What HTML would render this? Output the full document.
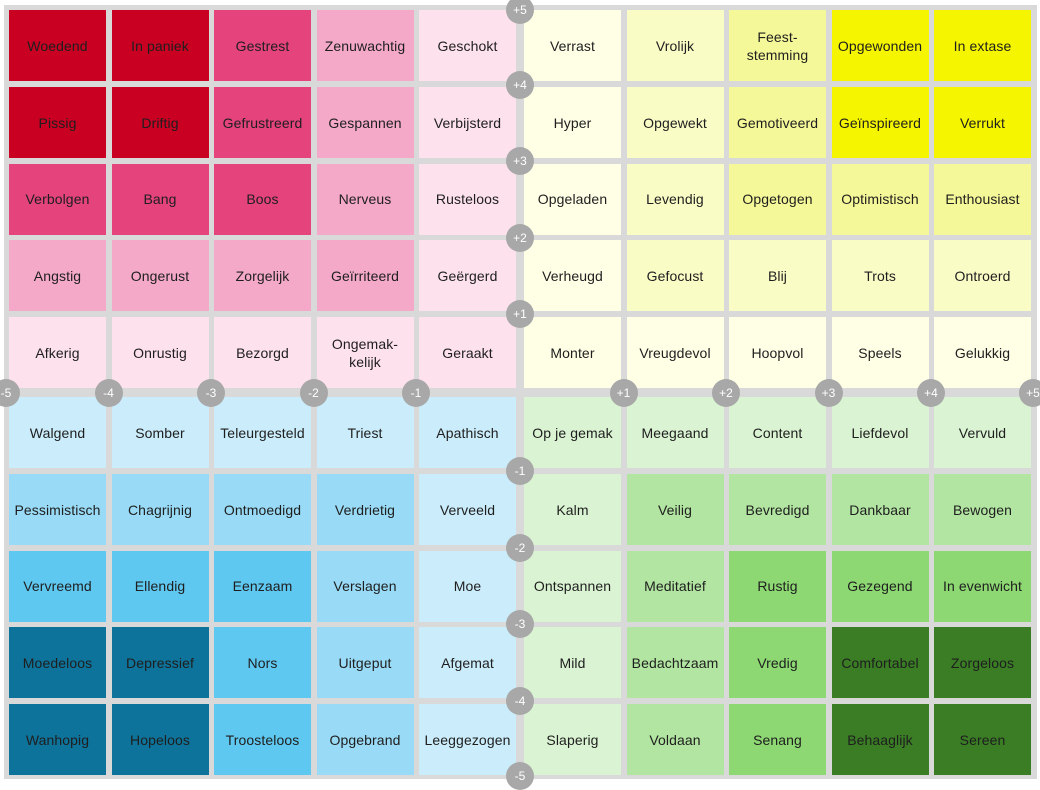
<!DOCTYPE html>
<html><head><meta charset="utf-8"><style>
body{margin:0;width:1040px;height:783px;background:#fff;position:relative;overflow:hidden;font-family:"Liberation Sans","DejaVu Sans",sans-serif}
.bg{position:absolute;left:4px;top:5px;width:1033px;height:774px;background:#d9d9d9}
.c{position:absolute;width:97px;height:71px;display:flex;align-items:center;justify-content:center;text-align:center;font-size:14px;color:#1e1e1e;line-height:18px;letter-spacing:0.1px}
.k{position:absolute;width:28px;height:28px;border-radius:50%;background:#a8a8a8;color:#fff;font-size:12px;display:flex;align-items:center;justify-content:center;margin:-14px 0 0 -14px}
.R{background:#c90022}.P{background:#e4437c}.M{background:#f4a9c8}.L{background:#fde1ec}
.Y0{background:#ffffe6}.Y1{background:#fafcc6}.Y2{background:#f5f898}.Y3{background:#f6f500}
.B0{background:#cbedfb}.B1{background:#99dbf6}.B2{background:#5fc8f0}.B3{background:#0e739a}
.G0{background:#daf3d2}.G1{background:#b2e5a1}.G2{background:#8dd873}.G3{background:#3a7d25}
</style></head><body>
<div class="bg"></div>
<!-- row 0 y10 -->
<div class="c R" style="left:9px;top:10px">Woedend</div>
<div class="c R" style="left:111.5px;top:10px">In paniek</div>
<div class="c P" style="left:214px;top:10px">Gestrest</div>
<div class="c M" style="left:316.5px;top:10px">Zenuwachtig</div>
<div class="c L" style="left:419px;top:10px">Geschokt</div>
<div class="c Y0" style="left:524px;top:10px">Verrast</div>
<div class="c Y1" style="left:626.5px;top:10px">Vrolijk</div>
<div class="c Y2" style="left:729px;top:10px">Feest-<br>stemming</div>
<div class="c Y3" style="left:831.5px;top:10px">Opgewonden</div>
<div class="c Y3" style="left:934px;top:10px">In extase</div>
<!-- row 1 y87 -->
<div class="c R" style="left:9px;top:87px">Pissig</div>
<div class="c R" style="left:111.5px;top:87px">Driftig</div>
<div class="c P" style="left:214px;top:87px">Gefrustreerd</div>
<div class="c M" style="left:316.5px;top:87px">Gespannen</div>
<div class="c L" style="left:419px;top:87px">Verbijsterd</div>
<div class="c Y0" style="left:524px;top:87px">Hyper</div>
<div class="c Y1" style="left:626.5px;top:87px">Opgewekt</div>
<div class="c Y2" style="left:729px;top:87px">Gemotiveerd</div>
<div class="c Y3" style="left:831.5px;top:87px">Geïnspireerd</div>
<div class="c Y3" style="left:934px;top:87px">Verrukt</div>
<!-- row 2 y163.5 -->
<div class="c P" style="left:9px;top:163.5px">Verbolgen</div>
<div class="c P" style="left:111.5px;top:163.5px">Bang</div>
<div class="c P" style="left:214px;top:163.5px">Boos</div>
<div class="c M" style="left:316.5px;top:163.5px">Nerveus</div>
<div class="c L" style="left:419px;top:163.5px">Rusteloos</div>
<div class="c Y0" style="left:524px;top:163.5px">Opgeladen</div>
<div class="c Y1" style="left:626.5px;top:163.5px">Levendig</div>
<div class="c Y2" style="left:729px;top:163.5px">Opgetogen</div>
<div class="c Y2" style="left:831.5px;top:163.5px">Optimistisch</div>
<div class="c Y2" style="left:934px;top:163.5px">Enthousiast</div>
<!-- row 3 y240 -->
<div class="c M" style="left:9px;top:240px">Angstig</div>
<div class="c M" style="left:111.5px;top:240px">Ongerust</div>
<div class="c M" style="left:214px;top:240px">Zorgelijk</div>
<div class="c M" style="left:316.5px;top:240px">Geïrriteerd</div>
<div class="c L" style="left:419px;top:240px">Geërgerd</div>
<div class="c Y0" style="left:524px;top:240px">Verheugd</div>
<div class="c Y1" style="left:626.5px;top:240px">Gefocust</div>
<div class="c Y1" style="left:729px;top:240px">Blij</div>
<div class="c Y1" style="left:831.5px;top:240px">Trots</div>
<div class="c Y1" style="left:934px;top:240px">Ontroerd</div>
<!-- row 4 y317 -->
<div class="c L" style="left:9px;top:317px">Afkerig</div>
<div class="c L" style="left:111.5px;top:317px">Onrustig</div>
<div class="c L" style="left:214px;top:317px">Bezorgd</div>
<div class="c L" style="left:316.5px;top:317px">Ongemak-<br>kelijk</div>
<div class="c L" style="left:419px;top:317px">Geraakt</div>
<div class="c Y0" style="left:524px;top:317px">Monter</div>
<div class="c Y0" style="left:626.5px;top:317px">Vreugdevol</div>
<div class="c Y0" style="left:729px;top:317px">Hoopvol</div>
<div class="c Y0" style="left:831.5px;top:317px">Speels</div>
<div class="c Y0" style="left:934px;top:317px">Gelukkig</div>
<!-- row 5 y397 -->
<div class="c B0" style="left:9px;top:397px">Walgend</div>
<div class="c B0" style="left:111.5px;top:397px">Somber</div>
<div class="c B0" style="left:214px;top:397px">Teleurgesteld</div>
<div class="c B0" style="left:316.5px;top:397px">Triest</div>
<div class="c B0" style="left:419px;top:397px">Apathisch</div>
<div class="c G0" style="left:524px;top:397px">Op je gemak</div>
<div class="c G0" style="left:626.5px;top:397px">Meegaand</div>
<div class="c G0" style="left:729px;top:397px">Content</div>
<div class="c G0" style="left:831.5px;top:397px">Liefdevol</div>
<div class="c G0" style="left:934px;top:397px">Vervuld</div>
<!-- row 6 y474 -->
<div class="c B1" style="left:9px;top:474px">Pessimistisch</div>
<div class="c B1" style="left:111.5px;top:474px">Chagrijnig</div>
<div class="c B1" style="left:214px;top:474px">Ontmoedigd</div>
<div class="c B1" style="left:316.5px;top:474px">Verdrietig</div>
<div class="c B0" style="left:419px;top:474px">Verveeld</div>
<div class="c G0" style="left:524px;top:474px">Kalm</div>
<div class="c G1" style="left:626.5px;top:474px">Veilig</div>
<div class="c G1" style="left:729px;top:474px">Bevredigd</div>
<div class="c G1" style="left:831.5px;top:474px">Dankbaar</div>
<div class="c G1" style="left:934px;top:474px">Bewogen</div>
<!-- row 7 y550.5 -->
<div class="c B2" style="left:9px;top:550.5px">Vervreemd</div>
<div class="c B2" style="left:111.5px;top:550.5px">Ellendig</div>
<div class="c B2" style="left:214px;top:550.5px">Eenzaam</div>
<div class="c B1" style="left:316.5px;top:550.5px">Verslagen</div>
<div class="c B0" style="left:419px;top:550.5px">Moe</div>
<div class="c G0" style="left:524px;top:550.5px">Ontspannen</div>
<div class="c G1" style="left:626.5px;top:550.5px">Meditatief</div>
<div class="c G2" style="left:729px;top:550.5px">Rustig</div>
<div class="c G2" style="left:831.5px;top:550.5px">Gezegend</div>
<div class="c G2" style="left:934px;top:550.5px">In evenwicht</div>
<!-- row 8 y627 -->
<div class="c B3" style="left:9px;top:627px">Moedeloos</div>
<div class="c B3" style="left:111.5px;top:627px">Depressief</div>
<div class="c B2" style="left:214px;top:627px">Nors</div>
<div class="c B1" style="left:316.5px;top:627px">Uitgeput</div>
<div class="c B0" style="left:419px;top:627px">Afgemat</div>
<div class="c G0" style="left:524px;top:627px">Mild</div>
<div class="c G1" style="left:626.5px;top:627px">Bedachtzaam</div>
<div class="c G2" style="left:729px;top:627px">Vredig</div>
<div class="c G3" style="left:831.5px;top:627px">Comfortabel</div>
<div class="c G3" style="left:934px;top:627px">Zorgeloos</div>
<!-- row 9 y704 -->
<div class="c B3" style="left:9px;top:704px">Wanhopig</div>
<div class="c B3" style="left:111.5px;top:704px">Hopeloos</div>
<div class="c B2" style="left:214px;top:704px">Troosteloos</div>
<div class="c B1" style="left:316.5px;top:704px">Opgebrand</div>
<div class="c B0" style="left:419px;top:704px">Leeggezogen</div>
<div class="c G0" style="left:524px;top:704px">Slaperig</div>
<div class="c G1" style="left:626.5px;top:704px">Voldaan</div>
<div class="c G2" style="left:729px;top:704px">Senang</div>
<div class="c G3" style="left:831.5px;top:704px">Behaaglijk</div>
<div class="c G3" style="left:934px;top:704px">Sereen</div>
<!-- axis knobs -->
<div class="k" style="left:6px;top:393px">-5</div>
<div class="k" style="left:108.5px;top:393px">-4</div>
<div class="k" style="left:211px;top:393px">-3</div>
<div class="k" style="left:313.5px;top:393px">-2</div>
<div class="k" style="left:416px;top:393px">-1</div>
<div class="k" style="left:623.5px;top:393px">+1</div>
<div class="k" style="left:726px;top:393px">+2</div>
<div class="k" style="left:828.5px;top:393px">+3</div>
<div class="k" style="left:931px;top:393px">+4</div>
<div class="k" style="left:1033px;top:393px">+5</div>
<div class="k" style="left:520px;top:10px">+5</div>
<div class="k" style="left:520px;top:84.5px">+4</div>
<div class="k" style="left:520px;top:161px">+3</div>
<div class="k" style="left:520px;top:237.5px">+2</div>
<div class="k" style="left:520px;top:314px">+1</div>
<div class="k" style="left:520px;top:471px">-1</div>
<div class="k" style="left:520px;top:547.5px">-2</div>
<div class="k" style="left:520px;top:624px">-3</div>
<div class="k" style="left:520px;top:700.5px">-4</div>
<div class="k" style="left:520px;top:776px">-5</div>
</body></html>
